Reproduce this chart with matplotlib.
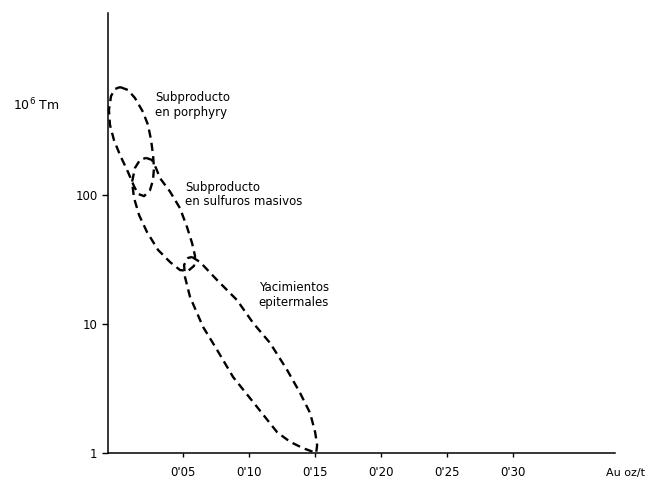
import matplotlib
matplotlib.use("Agg")
import matplotlib.pyplot as plt
import numpy as np

# Data (Au oz/t, 10^6 Tm)
porphyry_x = [0.0023, 0.0083, 0.0136, 0.0197, 0.0235, 0.0258, 0.0273, 0.0280, 0.0273, 0.0250,
              0.0205, 0.0159, 0.0129, 0.0083, 0.0023, -0.0023, -0.0053, -0.0061, -0.0045, -0.0015]
porphyry_y = [687, 652, 565, 440, 349, 267, 204, 162, 131, 109,
              98, 102, 117, 151, 204, 267, 349, 456, 585, 663]

sulfuros_x = [0.0220, 0.0265, 0.0295, 0.0326, 0.0402, 0.0477, 0.0530, 0.0568, 0.0591, 0.0583,
              0.0538, 0.0477, 0.0402, 0.0311, 0.0227, 0.0167, 0.0129, 0.0114, 0.0136, 0.0174]
sulfuros_y = [194, 187, 162, 135, 106, 79, 56.5, 42.5, 33.7, 28.2,
              25.8, 26.2, 30.2, 37.5, 51.7, 70, 94.8, 126, 162, 187]

epi_x = [0.0568, 0.0629, 0.0758, 0.0909, 0.1030, 0.1159, 0.1288, 0.1386, 0.1462, 0.1500,
         0.1515, 0.1508, 0.1485, 0.1409, 0.1311, 0.1212, 0.1061, 0.0879, 0.0758, 0.0652,
         0.0553, 0.0515, 0.0508, 0.0538]
epi_y = [33.1, 30.2, 21.9, 15.3, 10.2, 7.12, 4.40, 2.92, 2.04, 1.45,
         1.15, 1.0, 1.02, 1.09, 1.22, 1.45, 2.27, 3.88, 6.29, 9.48,
         16.2, 23.1, 28.7, 32.5]

x_ticks = [0.05, 0.10, 0.15, 0.20, 0.25, 0.30]
x_tick_labels = ["0'05", "0'10", "0'15", "0'20", "0'25", "0'30"]
y_ticks = [1, 10, 100]
y_tick_labels = ["1", "10", "100"]

labels = ["Subproducto\nen porphyry", "Subproducto\nen sulfuros masivos", "Yacimientos\nepitermales"]

fig = plt.figure(figsize=(6.48, 4.8), dpi=100)
ax = fig.add_axes([108/648, 27/480, 507/648, 440/480])

ax.set_yscale("log")
ax.set_xlim(-0.0068, 0.377)
ax.set_ylim(1, 2576)

dash = (0, (3.5, 2.2))
for xs, ys in [(porphyry_x, porphyry_y), (sulfuros_x, sulfuros_y), (epi_x, epi_y)]:
    xs = np.append(xs, xs[0])
    ys = np.append(ys, ys[0])
    ax.plot(xs, ys, color="black", lw=1.7, linestyle=dash, clip_on=False)

for s in ["top", "right"]:
    ax.spines[s].set_visible(False)
for s in ["left", "bottom"]:
    ax.spines[s].set_linewidth(1.1)

ax.set_xticks(x_ticks)
ax.set_xticklabels(x_tick_labels, fontsize=8.5)
ax.set_yticks(y_ticks)
ax.set_yticklabels(y_tick_labels, fontsize=8.5)
ax.minorticks_off()
ax.tick_params(axis="x", direction="out", length=3, width=1, pad=6)
ax.tick_params(axis="y", direction="out", length=4.5, width=1, pad=3)

ax.text(0.0288, 499, labels[0], fontsize=8.5, ha="left", va="center", linespacing=1.15)
ax.text(0.0515, 101, labels[1], fontsize=8.5, ha="left", va="center", linespacing=1.15)
ax.text(0.134, 16.8, labels[2], fontsize=8.5, ha="center", va="center", linespacing=1.15,
        multialignment="right")

fig.text(13/648, 1 - 105/480, "10$^6$ Tm", fontsize=9, ha="left", va="center")
fig.text(645/648, 1 - 473/480, "Au oz/t", fontsize=8, ha="right", va="center")

fig.savefig("out.png", dpi=100)
